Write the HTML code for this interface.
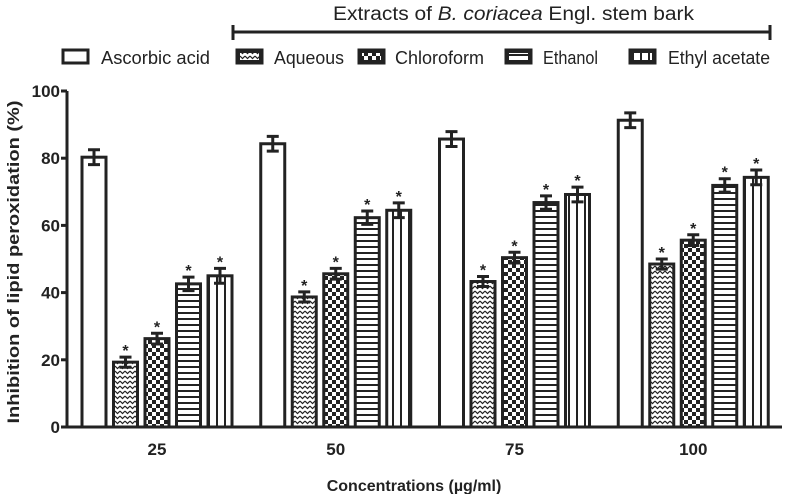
<!DOCTYPE html>
<html><head><meta charset="utf-8">
<style>
html,body{margin:0;padding:0;background:#fff;}
svg{display:block;font-family:"Liberation Sans",Arial,sans-serif;}
</style></head>
<body>
<svg id="chart" width="789" height="494" viewBox="0 0 789 494">
<defs>
<pattern id="p-aq" width="5" height="5" patternUnits="userSpaceOnUse">
<rect width="5" height="5" fill="#fff"/><path d="M0,1 L2.5,3.5 L5,1" stroke="#222" stroke-width="1.2" fill="none"/>
</pattern>
<pattern id="p-ch" width="8" height="8" patternUnits="userSpaceOnUse">
<rect width="8" height="8" fill="#fff"/><rect width="4" height="4" fill="#222"/><rect x="4" y="4" width="4" height="4" fill="#222"/>
</pattern>
<pattern id="p-et" width="6" height="6" patternUnits="userSpaceOnUse">
<rect width="6" height="6" fill="#fff"/><rect width="6" height="2" fill="#222"/>
</pattern>
<pattern id="p-ea" width="8" height="6" patternUnits="userSpaceOnUse">
<rect width="8" height="6" fill="#fff"/><rect width="2" height="6" fill="#222"/>
</pattern>
</defs>
<g id="legend"></g>
<g id="plot"></g>
</svg>
<script>
const categories = ["25","50","75","100"];
const seriesNames = ["Ascorbic acid","Aqueous","Chloroform","Ethanol","Ethyl acetate"];
const ascorbic = [80.3, 84.3, 85.7, 91.3];
const aqueous = [19.3, 38.7, 43.3, 48.5];
const chloroform = [26.3, 45.6, 50.4, 55.6];
const ethanol = [42.6, 62.3, 66.8, 71.9];
const ethylAcetate = [45.0, 64.5, 69.2, 74.3];
const errors = [2.2, 1.5, 1.6, 2.0, 2.2];
const yTicks = [0,20,40,60,80,100];

const NS="http://www.w3.org/2000/svg";
const svg=document.getElementById('plot');
const legend=document.getElementById('legend');
const series=[ascorbic,aqueous,chloroform,ethanol,ethylAcetate];
const fills=["#fff","url(#p-aq)","url(#p-ch)","url(#p-et)","url(#p-ea)"];
const x0=67,x1=782,yBase=427,yTop=91;
function y(v){return yBase-(v/100)*(yBase-yTop);}
const groupW=(x1-x0)/categories.length;
function groupStart(i){return x0+15+i*groupW;}
const pitch=31.5,barW=24;
function mk(tag,attrs,parent){const e=document.createElementNS(NS,tag);for(const k in attrs)e.setAttribute(k,attrs[k]);(parent||svg).appendChild(e);return e;}

series.forEach((vals,s)=>{
 vals.forEach((v,i)=>{
  const bx=groupStart(i)+s*pitch;
  const r=mk('rect',{x:bx,y:y(v),width:barW,height:yBase-y(v),fill:fills[s],stroke:'#222','stroke-width':3});
  
  
  const cx=bx+barW/2,e=errors[s];
  const eb=mk('path',{d:`M${cx},${y(v+e)}V${y(v-e)}M${cx-6},${y(v+e)}H${cx+6}M${cx-6},${y(v-e)}H${cx+6}`,stroke:'#222','stroke-width':3,fill:'none'});
  
  
  if(s>0){
   const t=mk('text',{x:cx,y:y(v+e)-1,'text-anchor':'middle','font-size':16,'font-weight':'bold',fill:'#222'});
   t.textContent='*';
   
   
  }
 });
});
const ax=mk('path',{d:`M${x0},${yTop}V${yBase}H${x1}`,stroke:'#222','stroke-width':3,fill:'none'});


yTicks.forEach(t=>{
 const tk=mk('line',{x1:x0-6,x2:x0,y1:y(t),y2:y(t),stroke:'#222','stroke-width':3});
 
 
 const tl=mk('text',{x:x0-7,y:y(t)+6,'text-anchor':'end','font-size':17,'font-weight':'bold',fill:'#222'});
 tl.textContent=t;
 
 
});
categories.forEach((c,i)=>{
 const cx=groupStart(i)+2*pitch+barW/2;
 const tl=mk('text',{x:cx,y:455,'text-anchor':'middle','font-size':17,'font-weight':'bold',fill:'#222'});
 tl.textContent=c;
 
 
});
const xt=mk('text',{x:414,y:491,'text-anchor':'middle','font-size':16,'font-weight':'bold',fill:'#222'});
xt.textContent='Concentrations (µg/ml)';


const yt=mk('text',{x:0,y:0,transform:'translate(19,262) rotate(-90)','text-anchor':'middle','font-size':17,'font-weight':'bold',fill:'#222',textLength:323,lengthAdjust:'spacingAndGlyphs'});
yt.textContent='Inhibition of lipid peroxidation (%)';



// legend
const bt=mk('text',{x:333,y:20,'font-size':19,fill:'#222',textLength:361,lengthAdjust:'spacingAndGlyphs'},legend);
bt.innerHTML='Extracts of <tspan font-style="italic">B. coriacea</tspan> Engl. stem bark';


const br=mk('path',{d:'M233,25V40M233,32H770M770,25V40',stroke:'#222','stroke-width':3,fill:'none'},legend);


const lx=[62,236,358,505,629];
const tx=[101,274,395,543,668];
const tw=[109,70,89,55,102];
seriesNames.forEach((n,s)=>{
 const g=mk('g',{},legend);
 
 
 mk('rect',{x:lx[s]+1,y:50,width:25,height:13,fill:s===0?'#fff':'#222',stroke:'#222','stroke-width':3},g);
 if(s>0) mk('rect',{x:lx[s]+4,y:53,width:19,height:7,fill:fills[s]},g);
 const t=mk('text',{x:tx[s],y:64,'font-size':18,fill:'#222',textLength:tw[s],lengthAdjust:'spacingAndGlyphs'},g);
 t.textContent=n;
});
</script>
</body></html>
